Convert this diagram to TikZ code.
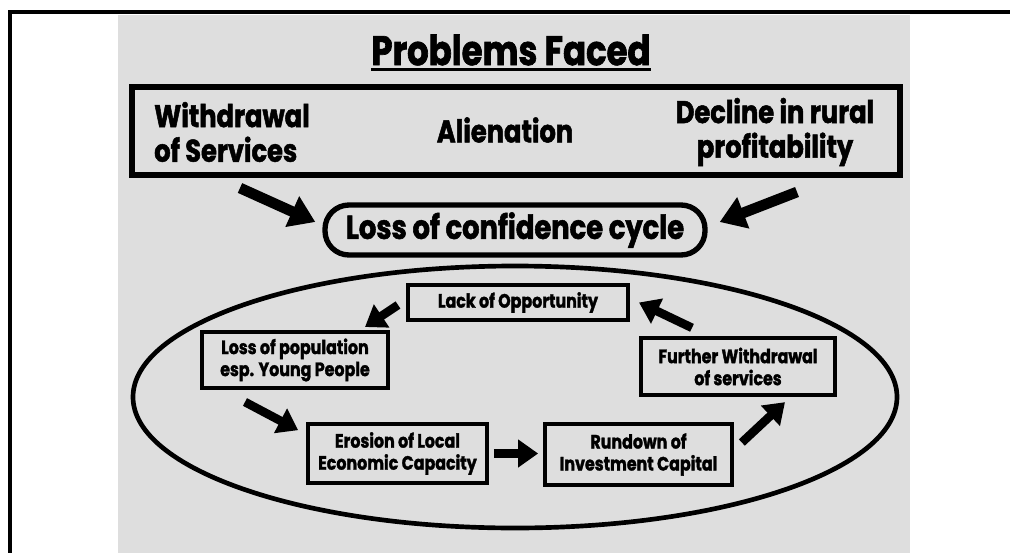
\documentclass[tikz,border=0pt]{standalone}
\usepackage{fontspec}
\setmainfont{Poppins}
\newfontfamily\diafont[FakeStretch=0.82, BoldFeatures={FakeBold=1.6}]{Poppins}
\usetikzlibrary{arrows.meta}
\usetikzlibrary{calc}
\definecolor{speckle}{gray}{0.87}
\tikzset{>=latex}
\tikzset{
  bigtext/.style={font=\diafont\bfseries\fontsize{23.5}{26}\selectfont, align=center, inner sep=0pt},
  cyclebox/.style={draw, line width=3pt, align=center, inner sep=2pt,
    font=\diafont\bfseries\fontsize{14.5}{16.5}\selectfont},
  fat/.style={line width=8pt, -{Triangle[length=19pt,width=24pt]}},
  slim/.style={line width=6.5pt, -{Triangle[length=15pt,width=20pt]}}
}

\begin{document}
\begin{tikzpicture}[x=0.75pt, y=-0.75pt]
\useasboundingbox (0,0) rectangle (1010,553);
\fill[speckle] (118,15) rectangle (910,553);
\draw[line width=2.5pt] (1010,12) -- (10,12) -- (10,553);
\node[bigtext, font=\diafont\bfseries\fontsize{31}{33}\selectfont] (title) at (511,50) {Problems Faced};
\draw[line width=2.5pt] ($(title.south west)+(0,4)$) -- ($(title.south east)+(0,4)$);
\draw[line width=4pt] (132,87) rectangle (900,175);
\node[bigtext, align=left] (withdrawal) at (232,132) {Withdrawal\\of Services};
\node[bigtext] (alienation) at (505,130) {Alienation};
\node[bigtext] (decline) at (775,132) {Decline in rural\\profitability};
\node[draw, line width=4pt, rounded corners=18pt, minimum width=285pt, minimum height=37.5pt,
  font=\diafont\bfseries\fontsize{25}{27}\selectfont] (loss) at (515,230) {Loss of confidence cycle};
\draw[fat] ($(withdrawal)+(8,56)$) -- ($(loss.west)+(-7,-8)$);
\draw[fat] ($(decline)+(22,60)$) -- ($(loss.east)+(12,-8)$);
\draw[line width=3.5pt] (515,397) ellipse [x radius=286.5pt, y radius=98.25pt];
\node[cyclebox, minimum width=165pt, minimum height=26.25pt] (opp) at (518,302.5) {Lack of Opportunity};
\node[cyclebox, minimum width=139.5pt, minimum height=42pt] (pop) at (295,360) {Loss of population\\esp. Young People};
\node[cyclebox, minimum width=134pt, minimum height=44pt] (erosion) at (397.5,453.5) {Erosion of Local\\Economic Capacity};
\node[cyclebox, minimum width=140pt, minimum height=46pt] (rundown) at (638.5,454.5) {Rundown of\\Investment Capital};
\node[cyclebox, minimum width=145.5pt, minimum height=43pt] (further) at (738,366.5) {Further Withdrawal\\of services};
\draw[slim] ($(opp.west)+(-8,2.5)$) -- ($(pop.north east)+(-25,-3)$);
\draw[slim] ($(pop.south)+(-50,12)$) -- ($(erosion.north west)+(-8,8)$);
\draw[slim] ($(erosion.east)+(5,0)$) -- ($(rundown.west)+(-5,-1)$);
\draw[slim] ($(rundown.east)+(8,-12)$) -- ($(further.south)+(47,5)$);
\draw[slim] ($(further.north)+(-46,-8)$) -- ($(opp.east)+(9,0)$);
\end{tikzpicture}
\end{document}
